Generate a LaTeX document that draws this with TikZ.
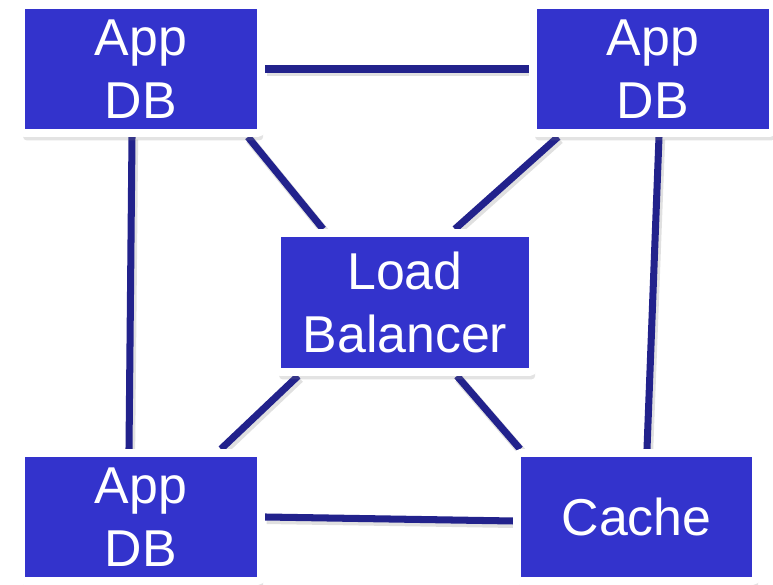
\documentclass[tikz,border=0pt]{standalone}
\usepackage{fontspec}
\setmainfont{Liberation Sans}
\usetikzlibrary{shadows,backgrounds}
\definecolor{boxblue}{HTML}{3333CC}
\definecolor{linkblue}{HTML}{22228C}
\begin{document}
\begin{tikzpicture}[
   server/.style={rectangle, fill=boxblue, draw=white, line width=4.5pt,
      rounded corners=2pt, minimum width=4.8cm, minimum height=2.56cm,
      inner sep=0pt, align=center, text=white,
      font=\fontsize{29.5}{36}\selectfont,
      drop shadow={shadow xshift=1.2pt, shadow yshift=-4.2pt, opacity=0.22}},
   link/.style={linkblue, line width=4pt,
      preaction={draw=black, opacity=0.12, line width=5pt,
         transform canvas={xshift=1pt, yshift=-1.5pt}}}]
\useasboundingbox (0,0) rectangle (15.46,11.70);

\node [server] (tl) at (2.82,10.32) {App\\DB};
\node [server] (tr) at (13.06,10.32) {App\\DB};
\node [server, minimum width=5.12cm, minimum height=2.78cm] (lb) at (8.10,5.65) {Load\\Balancer};
\node [server] (bl) at (2.82,1.36) {App\\DB};
\node [server, minimum width=4.78cm] (ca) at (12.73,1.36) {Cache};

\begin{pgfonlayer}{background}
\draw [link] (tl.east)--(tr.west);
\draw [link] (bl.east)--([yshift=-.08cm]ca.west);
\draw [link] ([xshift=-.18cm]tl.south)--([xshift=-.24cm]bl.north);
\draw [link] ([xshift=.12cm]tr.south)--([xshift=.21cm]ca.north);

\draw [link] ([xshift=-.34cm]tl.south east)--([xshift=1cm]lb.north west);
\draw [link] ([xshift=.58cm]tr.south west)--([xshift=-1.64cm]lb.north east);
\draw [link] ([xshift=.5cm]lb.south west)--([xshift=-.88cm]bl.north east);
\draw [link] ([xshift=-1.6cm]lb.south east)--([xshift=.14cm]ca.north west);
\end{pgfonlayer}

\end{tikzpicture}
\end{document}
